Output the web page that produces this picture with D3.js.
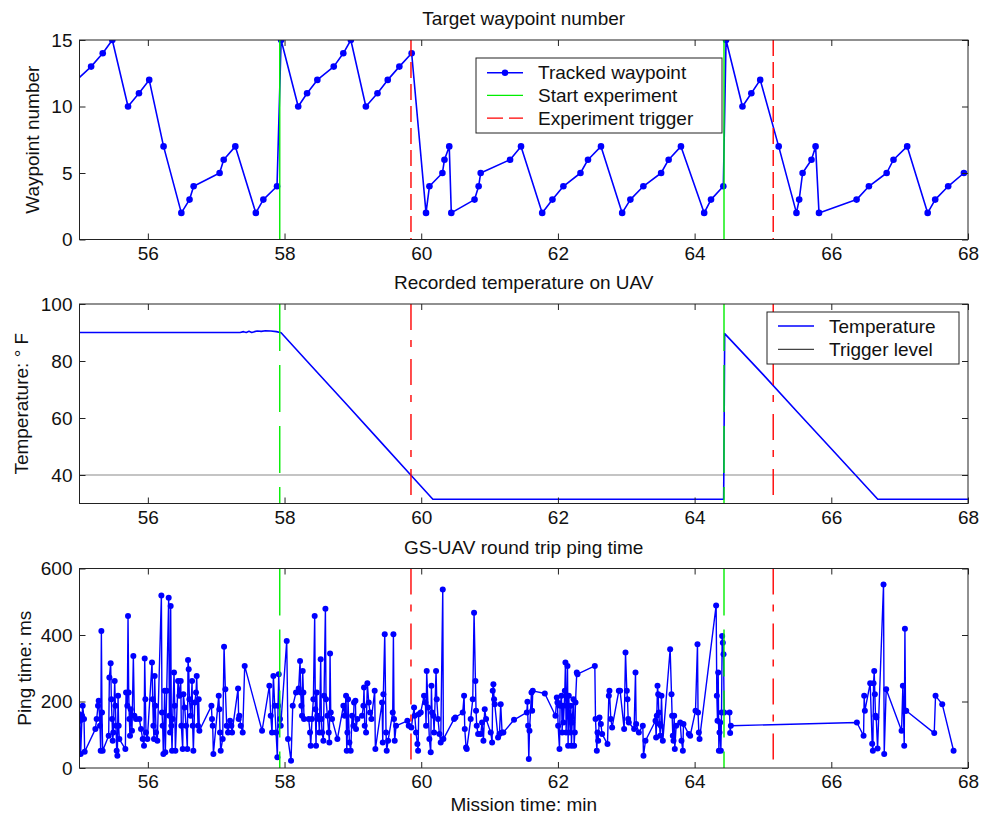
<!DOCTYPE html>
<html>
<head>
<meta charset="utf-8">
<script src="https://d3js.org/d3.v7.min.js"></script>
<style>
    body { margin: 0; background: #fff; }
    svg text { font-family: "Liberation Sans", Arial, Helvetica, sans-serif; fill: #111; }
</style>
</head>
<body>
<div id="chart"></div>
<script>
// ---- data ----
const timeDomain = [55, 68];
const timeTicks = [56, 58, 60, 62, 64, 66, 68];
const startTimes = [57.93, 64.43];
const triggerTimes = [59.85, 65.15];
const triggerLevel = 40;

const wpTicks = [0, 5, 10, 15];
const tempTicks = [40, 60, 80, 100];
const pingTicks = [0, 200, 400, 600];

const wpTime = [54.96, 55.17, 55.34, 55.48, 55.71, 55.87, 56.02, 56.23, 56.49, 56.61,
    56.67, 57.05, 57.11, 57.28, 57.58, 57.69, 57.89, 57.95, 58.20, 58.33,
    58.48, 58.72, 58.86, 58.97, 59.19, 59.36, 59.51, 59.68, 59.86, 60.07,
    60.12, 60.31, 60.34, 60.41, 60.44, 60.78, 60.84, 60.87, 61.30, 61.46,
    61.77, 61.92, 62.08, 62.33, 62.44, 62.63, 62.94, 63.06, 63.25, 63.51,
    63.62, 63.80, 64.14, 64.24, 64.42, 64.46, 64.70, 64.83, 64.96, 65.23,
    65.49, 65.53, 65.58, 65.71, 65.77, 65.82, 66.37, 66.55, 66.81, 66.91,
    67.11, 67.41, 67.52, 67.71, 67.94];
const wpNum = [12, 13, 14, 15, 10, 11, 12, 7, 2, 3,
    4, 5, 6, 7, 2, 3, 4, 15, 10, 11,
    12, 13, 14, 15, 10, 11, 12, 13, 14, 2,
    4, 5, 6, 7, 2, 3, 4, 5, 6, 7,
    2, 3, 4, 5, 6, 7, 2, 3, 4, 5,
    6, 7, 2, 3, 4, 15, 10, 11, 12, 7,
    2, 3, 5, 6, 7, 2, 3, 4, 5, 6,
    7, 2, 3, 4, 5];

const tempTime = [55, 57.35, 57.40, 57.44, 57.48, 57.52, 57.56, 57.60, 57.66, 57.72,
    57.80, 57.88, 57.95, 58.40, 58.90, 59.40, 59.84, 60.17, 64.425, 64.44,
    65.00, 65.50, 66.00, 66.32, 66.68, 68];
const tempF = [90, 90, 90.3, 90, 90.4, 90, 90.3, 90.5, 90.4, 90.6,
    90.5, 90.3, 89.9, 78.1, 65.0, 51.8, 40.2, 31.5, 31.5, 89.6,
    75.3, 62.2, 49.2, 40.9, 31.5, 31.5];

const pingTime = [54.998, 55.008, 55.017, 55.037, 55.047, 55.066, 55.076, 55.232, 55.251, 55.271,
    55.281, 55.300, 55.310, 55.320, 55.329, 55.339, 55.427, 55.437, 55.456, 55.466,
    55.476, 55.486, 55.495, 55.515, 55.525, 55.534, 55.544, 55.554, 55.564, 55.573,
    55.583, 55.671, 55.681, 55.700, 55.710, 55.720, 55.729, 55.739, 55.749, 55.768,
    55.788, 55.803, 55.827, 55.876, 55.900, 55.925, 55.944, 55.954, 55.964, 55.973,
    55.993, 56.061, 56.071, 56.081, 56.090, 56.100, 56.110, 56.120, 56.139, 56.198,
    56.207, 56.217, 56.227, 56.246, 56.256, 56.276, 56.305, 56.315, 56.325, 56.334,
    56.344, 56.354, 56.364, 56.383, 56.393, 56.403, 56.442, 56.461, 56.481, 56.490,
    56.510, 56.520, 56.539, 56.559, 56.578, 56.588, 56.598, 56.608, 56.627, 56.647,
    56.656, 56.666, 56.686, 56.705, 56.715, 56.734, 56.744, 56.754, 56.930, 56.939,
    56.949, 56.959, 57.037, 57.047, 57.056, 57.066, 57.095, 57.115, 57.134, 57.154,
    57.173, 57.203, 57.222, 57.232, 57.320, 57.329, 57.339, 57.359, 57.388, 57.417,
    57.671, 57.778, 57.798, 57.817, 57.837, 57.856, 57.876, 57.895, 57.905, 57.915,
    57.934, 57.944, 58.032, 58.051, 58.095, 58.120, 58.168, 58.207, 58.227, 58.237,
    58.246, 58.256, 58.266, 58.276, 58.285, 58.354, 58.373, 58.383, 58.402, 58.422,
    58.441, 58.451, 58.461, 58.471, 58.480, 58.500, 58.510, 58.529, 58.539, 58.549,
    58.568, 58.578, 58.598, 58.607, 58.627, 58.646, 58.656, 58.666, 58.676, 58.695,
    58.773, 58.861, 58.880, 58.900, 58.910, 58.920, 58.929, 58.949, 58.968, 58.988,
    59.007, 59.017, 59.037, 59.046, 59.066, 59.134, 59.154, 59.163, 59.173, 59.193,
    59.212, 59.232, 59.251, 59.271, 59.319, 59.329, 59.427, 59.437, 59.446, 59.466,
    59.485, 59.495, 59.515, 59.583, 59.593, 59.602, 59.612, 59.632, 59.797, 59.817,
    59.856, 59.895, 59.905, 59.924, 59.944, 59.954, 59.963, 59.993, 60.041, 60.061,
    60.071, 60.080, 60.100, 60.119, 60.139, 60.149, 60.158, 60.178, 60.188, 60.217,
    60.227, 60.246, 60.266, 60.285, 60.315, 60.324, 60.480, 60.500, 60.607, 60.627,
    60.637, 60.656, 60.666, 60.724, 60.754, 60.773, 60.793, 60.802, 60.812, 60.832,
    60.871, 60.890, 60.910, 60.929, 60.949, 61.017, 61.037, 61.046, 61.056, 61.066,
    61.076, 61.124, 61.144, 61.163, 61.183, 61.202, 61.358, 61.545, 61.554, 61.564,
    61.574, 61.584, 61.613, 61.623, 61.632, 61.808, 61.964, 61.984, 61.993, 62.003,
    62.023, 62.032, 62.052, 62.062, 62.071, 62.081, 62.101, 62.110, 62.120, 62.130,
    62.140, 62.149, 62.159, 62.169, 62.179, 62.189, 62.198, 62.208, 62.228, 62.237,
    62.247, 62.257, 62.276, 62.286, 62.540, 62.550, 62.569, 62.579, 62.589, 62.608,
    62.628, 62.647, 62.725, 62.745, 62.754, 62.774, 62.793, 62.891, 62.910, 62.969,
    62.989, 63.008, 63.018, 63.028, 63.037, 63.115, 63.135, 63.145, 63.184, 63.242,
    63.252, 63.281, 63.428, 63.437, 63.447, 63.457, 63.467, 63.476, 63.486, 63.496,
    63.506, 63.515, 63.535, 63.642, 63.662, 63.671, 63.681, 63.691, 63.701, 63.710,
    63.730, 63.789, 63.808, 63.828, 63.837, 63.915, 63.935, 64.013, 64.042, 64.050,
    64.062, 64.072, 64.315, 64.325, 64.335, 64.345, 64.355, 64.364, 64.374, 64.384,
    64.394, 64.403, 64.413, 64.423, 64.433, 64.511, 64.520, 64.530, 66.374, 66.472,
    66.481, 66.491, 66.569, 66.598, 66.608, 66.618, 66.628, 66.637, 66.647, 66.657,
    66.677, 66.764, 66.774, 66.803, 67.028, 67.047, 67.067, 67.077, 67.086, 67.096,
    67.506, 67.525, 67.623, 67.789];
const pingMs = [162, 142, 42, 157, 187, 147, 49, 117, 147, 187,
    202, 127, 52, 412, 167, 52, 97, 272, 315, 207,
    147, 82, 107, 262, 187, 127, 52, 37, 217, 127,
    87, 57, 227, 187, 457, 227, 147, 97, 177, 112,
    337, 157, 147, 147, 117, 87, 67, 329, 207, 107,
    87, 317, 207, 127, 87, 277, 187, 107, 82, 519,
    167, 127, 42, 232, 47, 232, 512, 157, 107, 487,
    127, 52, 147, 287, 187, 52, 262, 217, 262, 127,
    57, 222, 182, 127, 57, 325, 297, 207, 157, 262,
    127, 52, 197, 227, 277, 127, 207, 112, 187, 147,
    127, 42, 217, 177, 107, 52, 87, 365, 237, 127,
    107, 142, 127, 107, 239, 147, 157, 127, 107, 307,
    112, 247, 157, 107, 277, 187, 107, 32, 187, 282,
    147, 127, 382, 87, 22, 187, 227, 239, 322, 227,
    187, 157, 292, 227, 147, 147, 107, 67, 147, 207,
    457, 177, 67, 227, 157, 147, 107, 327, 147, 107,
    82, 217, 479, 207, 157, 107, 77, 344, 167, 147,
    87, 187, 157, 217, 52, 107, 207, 77, 52, 157,
    127, 197, 202, 117, 147, 157, 187, 242, 127, 107,
    255, 197, 167, 147, 232, 57, 197, 77, 222, 402,
    107, 52, 82, 167, 402, 147, 82, 127, 142, 127,
    122, 182, 157, 107, 72, 52, 162, 167, 217, 197,
    127, 292, 182, 87, 47, 247, 167, 157, 107, 292,
    207, 147, 102, 77, 537, 87, 147, 152, 167, 217,
    117, 62, 57, 147, 207, 467, 262, 172, 127, 102,
    102, 137, 82, 177, 147, 107, 77, 232, 252, 207,
    192, 92, 102, 192, 107, 107, 145, 167, 199, 127,
    27, 112, 227, 172, 232, 224, 157, 212, 197, 127,
    57, 187, 217, 107, 187, 137, 232, 317, 107, 187,
    307, 67, 217, 157, 107, 187, 67, 137, 207, 67,
    107, 197, 287, 282, 307, 147, 52, 107, 82, 152,
    132, 102, 72, 217, 232, 147, 122, 232, 232, 117,
    347, 232, 207, 147, 137, 117, 287, 132, 107, 127,
    37, 82, 142, 92, 157, 247, 222, 167, 132, 97,
    127, 217, 82, 357, 222, 157, 97, 82, 157, 57,
    127, 137, 82, 52, 132, 102, 97, 172, 372, 167,
    107, 87, 489, 217, 142, 287, 52, 107, 137, 52,
    167, 397, 377, 342, 167, 167, 105, 127, 137, 97,
    217, 172, 255, 73, 52, 255, 292, 222, 157, 152,
    59, 552, 42, 237, 112, 247, 67, 419, 172, 172,
    105, 217, 192, 52];

// ---- layout ----
const BLUE = "#0000ff", GREEN = "#00ee00", RED = "#ff0000", GREY = "#8a8a8a";

const svg = d3.select("#chart").append("svg")
    .attr("width", 982)
    .attr("height", 821);

class MissionPanel {
    constructor(_config) {
        this.config = {
            id: _config.id,
            top: _config.top,
            left: 79.5,
            width: 888.5,
            height: 199.5,
            yDomain: _config.yDomain,
            yTicks: _config.yTicks,
            title: _config.title,
            yLabel: _config.yLabel,
            yLabelX: _config.yLabelX,
            greenDash: _config.greenDash,
            redDash: _config.redDash
        };
        this.initVis();
    }

    initVis() {
        let vis = this;
        const c = vis.config;

        vis.x = d3.scaleLinear().domain(timeDomain).range([0, c.width]);
        vis.y = d3.scaleLinear().domain(c.yDomain).range([c.height, 0]);

        vis.g = svg.append("g")
            .attr("transform", `translate(${c.left},${c.top})`);

        svg.append("clipPath").attr("id", `clip-${c.id}`)
            .append("rect")
            .attr("width", c.width)
            .attr("height", c.height);

        vis.plot = vis.g.append("g").attr("clip-path", `url(#clip-${c.id})`);

        // ticks pointing inwards on all four sides, matlab style
        const tick = 6;
        vis.g.append("g")
            .attr("transform", `translate(0,${c.height})`)
            .call(d3.axisBottom(vis.x).tickValues(timeTicks).tickSizeInner(-tick).tickSizeOuter(0).tickPadding(7))
            .call(g => g.select(".domain").remove());
        vis.g.append("g")
            .call(d3.axisTop(vis.x).tickValues(timeTicks).tickSizeInner(-tick).tickSizeOuter(0).tickFormat(""))
            .call(g => g.select(".domain").remove());
        vis.g.append("g")
            .call(d3.axisLeft(vis.y).tickValues(c.yTicks).tickSizeInner(-tick).tickSizeOuter(0).tickPadding(7))
            .call(g => g.select(".domain").remove());
        vis.g.append("g")
            .attr("transform", `translate(${c.width},0)`)
            .call(d3.axisRight(vis.y).tickValues(c.yTicks).tickSizeInner(-tick).tickSizeOuter(0).tickFormat(""))
            .call(g => g.select(".domain").remove());

        vis.g.selectAll(".tick line").attr("stroke", "#222");
        vis.g.selectAll(".tick text")
            .attr("font-size", 19)
            .attr("font-family", "'Liberation Sans', Arial, sans-serif")
            .attr("fill", "#111");

        vis.g.append("rect")
            .attr("width", c.width)
            .attr("height", c.height)
            .attr("fill", "none")
            .attr("stroke", "#222")
            .attr("stroke-width", 1);

        // titles
        vis.g.append("text")
            .attr("x", c.width / 2)
            .attr("y", -15)
            .attr("text-anchor", "middle")
            .attr("font-size", 19)
            .text(c.title);

        svg.append("text")
            .attr("transform", `translate(${c.yLabelX},${c.top + c.height / 2}) rotate(-90)`)
            .attr("text-anchor", "middle")
            .attr("font-size", 19)
            .text(c.yLabel);
    }

    drawLine(xs, ys, color, width) {
        let vis = this;
        const pts = xs.map((t, i) => [t, ys[i]]);
        const line = d3.line().x(d => vis.x(d[0])).y(d => vis.y(d[1]));
        vis.plot.append("path")
            .datum(pts)
            .attr("fill", "none")
            .attr("stroke", color)
            .attr("stroke-width", width)
            .attr("stroke-linejoin", "round")
            .attr("d", line);
        return pts;
    }

    drawMarkers(pts, r) {
        let vis = this;
        vis.plot.append("g")
            .selectAll("circle")
            .data(pts)
            .join("circle")
            .attr("cx", d => vis.x(d[0]))
            .attr("cy", d => vis.y(d[1]))
            .attr("r", r)
            .attr("fill", BLUE);
    }

    drawEvents() {
        let vis = this;
        const c = vis.config;
        vis.plot.selectAll("line.start")
            .data(startTimes)
            .join("line")
            .attr("class", "start")
            .attr("x1", d => vis.x(d)).attr("x2", d => vis.x(d))
            .attr("y1", 0).attr("y2", c.height)
            .attr("stroke", GREEN)
            .attr("stroke-width", 1.4)
            .attr("stroke-dasharray", c.greenDash);
        vis.plot.selectAll("line.trig")
            .data(triggerTimes)
            .join("line")
            .attr("class", "trig")
            .attr("x1", d => vis.x(d)).attr("x2", d => vis.x(d))
            .attr("y1", 0).attr("y2", c.height)
            .attr("stroke", RED)
            .attr("stroke-width", 1.4)
            .attr("stroke-dasharray", c.redDash);
    }

    drawLegend(box, rows) {
        let vis = this;
        const lg = svg.append("g");
        lg.append("rect")
            .attr("x", box.x).attr("y", box.y)
            .attr("width", box.w).attr("height", box.h)
            .attr("fill", "#fff")
            .attr("stroke", "#222");
        rows.forEach((r, i) => {
            const cy = box.y + box.first + i * box.step;
            lg.append("line")
                .attr("x1", box.x + 11).attr("x2", box.x + 47)
                .attr("y1", cy).attr("y2", cy)
                .attr("stroke", r.color)
                .attr("stroke-width", r.width)
                .attr("stroke-dasharray", r.dash || null);
            if (r.marker) {
                lg.append("circle")
                    .attr("cx", box.x + 29).attr("cy", cy)
                    .attr("r", 3.2).attr("fill", r.color);
            }
            lg.append("text")
                .attr("x", box.x + 62)
                .attr("y", cy)
                .attr("dy", "0.35em")
                .attr("font-size", 19)
                .text(r.label);
        });
    }
}

// panel 1: waypoints
const wpPanel = new MissionPanel({
    id: "wp", top: 40, yDomain: [0, 15], yTicks: wpTicks,
    title: "Target waypoint number", yLabel: "Waypoint number", yLabelX: 39,
    greenDash: null, redDash: "16,6"
});
const wpPts = wpPanel.drawLine(wpTime, wpNum, BLUE, 1.6);
wpPanel.drawMarkers(wpPts, 3.3);
wpPanel.drawEvents();
wpPanel.drawLegend({x: 476, y: 58, w: 246, h: 75, first: 14.7, step: 22.7}, [
    {label: "Tracked waypoint", color: BLUE, width: 1.6, marker: true},
    {label: "Start experiment", color: GREEN, width: 1.4},
    {label: "Experiment trigger", color: RED, width: 1.4, dash: "16,6"}
]);

// panel 2: temperature
const tempPanel = new MissionPanel({
    id: "temp", top: 304, yDomain: [30, 100], yTicks: tempTicks,
    title: "Recorded temperature on UAV", yLabel: "Temperature: \u00b0 F", yLabelX: 28,
    greenDash: "47,14", redDash: "26,10,7,12"
});
tempPanel.drawLine(timeDomain, [triggerLevel, triggerLevel], GREY, 1.2);
tempPanel.drawLine(tempTime, tempF, BLUE, 1.6);
tempPanel.drawEvents();
tempPanel.drawLegend({x: 767, y: 312, w: 192, h: 52, first: 14, step: 23.3}, [
    {label: "Temperature", color: BLUE, width: 1.6},
    {label: "Trigger level", color: "#444", width: 1.2}
]);

// panel 3: ping time
const pingPanel = new MissionPanel({
    id: "ping", top: 568.5, yDomain: [0, 600], yTicks: pingTicks,
    title: "GS-UAV round trip ping time", yLabel: "Ping time: ms", yLabelX: 31,
    greenDash: "47,14", redDash: "26,10,7,12"
});
const pingPts = pingPanel.drawLine(pingTime, pingMs, BLUE, 1.4);
pingPanel.drawMarkers(pingPts, 3);
pingPanel.drawEvents();

svg.append("text")
    .attr("x", 79.5 + 888.5 / 2)
    .attr("y", 811)
    .attr("text-anchor", "middle")
    .attr("font-size", 19)
    .text("Mission time: min");
</script>
</body>
</html>
